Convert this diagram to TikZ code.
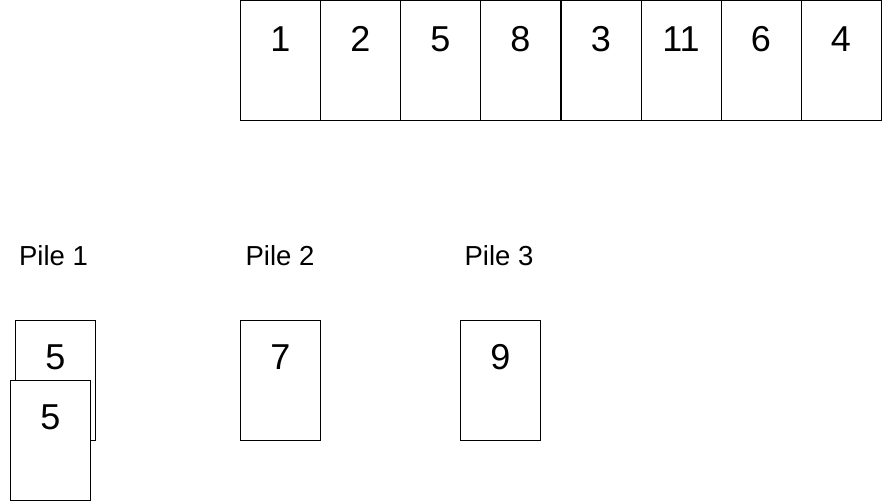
\documentclass[tikz,border=0pt]{standalone}
\usepackage{fontspec}
\setmainfont{Liberation Sans}
\usetikzlibrary{calc}
\begin{document}
\begin{tikzpicture}[x=1pt,y=-1pt,
  card/.style={draw=black,fill=white,line width=0.9pt,rectangle,minimum width=80pt,minimum height=120pt,inner sep=0pt,anchor=north west},
  num/.style={anchor=base,inner sep=0pt,font=\fontsize{36}{43}\selectfont},
  pilelabel/.style={anchor=base,inner sep=0pt,font=\fontsize{27.5}{33}\selectfont}]
\useasboundingbox (0,0) rectangle (882,501);
% top row
\foreach \x/\n/\v in {240/t1/1,320/t2/2,400/t3/5,480/t4/8,560.5/t5/3,640.5/t6/11,720.5/t7/6,800.5/t8/4}{
  \node[card] (\n) at (\x,0.3) {};
  \node[num] (\n lbl) at ($(\n.north)+(0,51.5)$) {\v};
}
% pile labels
\node[pilelabel] (p1) at (53.5,265) {Pile 1};
\node[pilelabel] (p2) at (280,265) {Pile 2};
\node[pilelabel] (p3) at (499,265) {Pile 3};
% pile 1
\node[card] (a1) at (15,320) {};
\node[num] (a1lbl) at ($(a1.north)+(0,49.5)$) {5};
\node[card] (a2) at (10,380) {};
\node[num] (a2lbl) at ($(a2.north)+(0,49.5)$) {5};
% pile 2
\node[card] (b1) at (240,320) {};
\node[num] (b1lbl) at ($(b1.north)+(0,49.5)$) {7};
% pile 3
\node[card] (c1) at (460,320) {};
\node[num] (c1lbl) at ($(c1.north)+(0,49.5)$) {9};
\end{tikzpicture}
\end{document}
